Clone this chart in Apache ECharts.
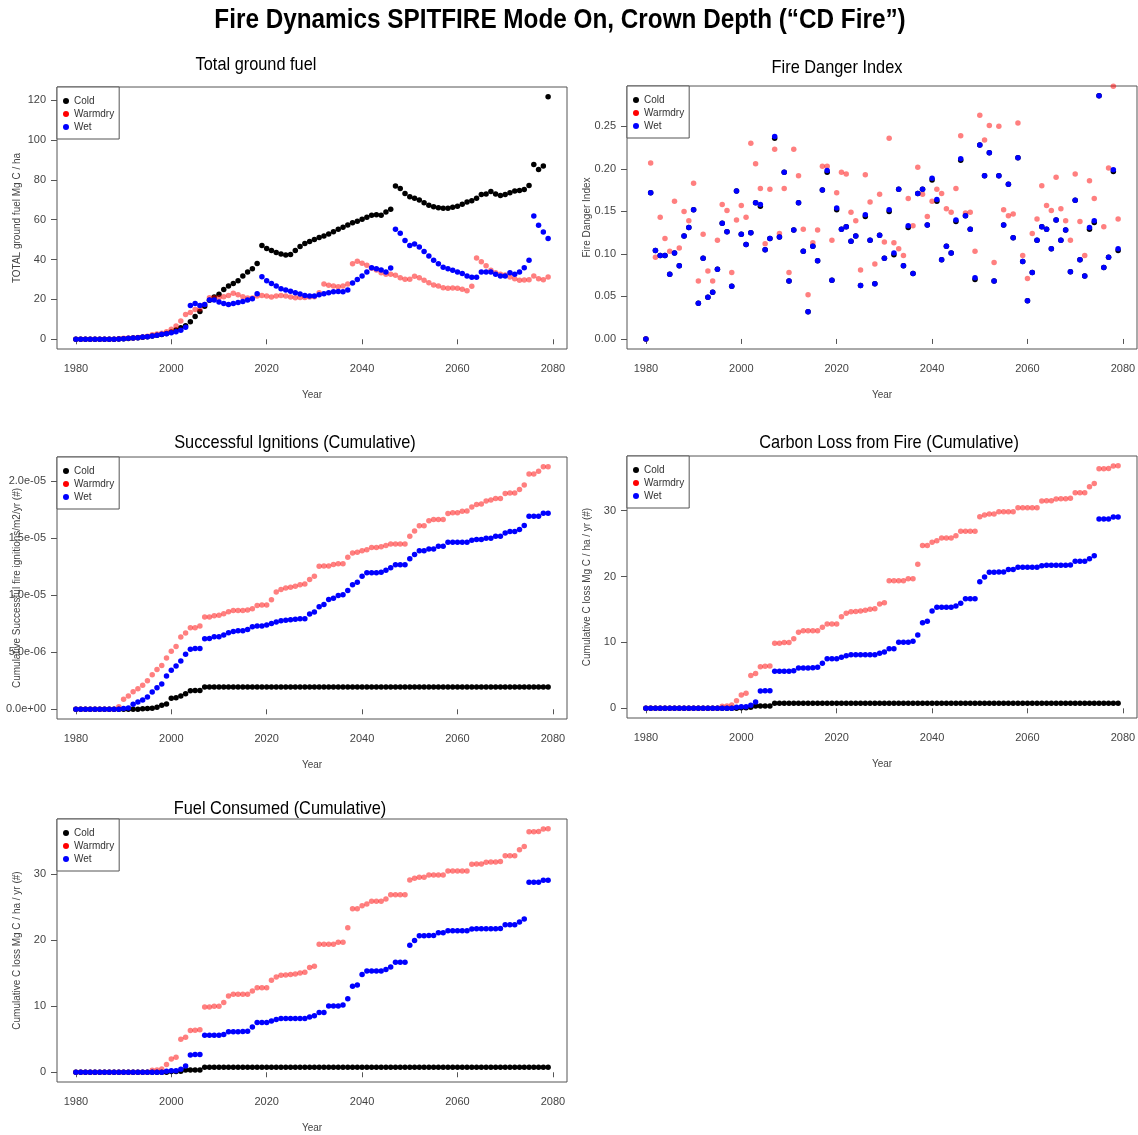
<!DOCTYPE html>
<html>
<head>
<meta charset="utf-8">
<title>Fire Dynamics SPITFIRE Mode On, Crown Depth</title>
<script src="https://cdn.jsdelivr.net/npm/echarts@6/dist/echarts.min.js"></script>
<style>
  html, body { margin: 0; padding: 0; background: #ffffff; }
  #chart { width: 1138px; height: 1135px; }
</style>
</head>
<body>
<div id="chart"></div>
<script>
// ---- Simulation years ----
const years = [
  1980,1981,1982,1983,1984,1985,1986,1987,1988,1989,
  1990,1991,1992,1993,1994,1995,1996,1997,1998,1999,
  2000,2001,2002,2003,2004,2005,2006,2007,2008,2009,
  2010,2011,2012,2013,2014,2015,2016,2017,2018,2019,
  2020,2021,2022,2023,2024,2025,2026,2027,2028,2029,
  2030,2031,2032,2033,2034,2035,2036,2037,2038,2039,
  2040,2041,2042,2043,2044,2045,2046,2047,2048,2049,
  2050,2051,2052,2053,2054,2055,2056,2057,2058,2059,
  2060,2061,2062,2063,2064,2065,2066,2067,2068,2069,
  2070,2071,2072,2073,2074,2075,2076,2077,2078,2079
];

// ---- Total ground fuel (Mg C / ha) ----
const groundCold = [
  0,0,0,0,0,0,0,0,0,0.2,
  0.3,0.4,0.6,0.8,1.0,1.3,1.6,2.0,2.4,2.9,
  3.6,4.6,5.8,6.8,8.8,11.4,13.9,16.6,19.6,21.2,
  22.6,25.0,26.7,28.0,29.4,31.8,33.8,35.4,38.0,47.1,
  45.5,44.5,43.6,42.8,42.3,42.6,44.5,46.5,48.0,49.0,
  50.1,51.1,51.8,52.8,54.0,55.2,56.2,57.3,58.5,59.2,
  60.2,61.2,62.2,62.5,62.2,63.8,65.2,76.9,75.7,73.2,
  71.5,70.7,69.9,68.5,67.2,66.5,66.0,65.7,65.7,66.2,
  66.7,67.7,68.9,69.5,70.7,72.7,72.9,74.2,72.9,72.2,
  72.7,73.5,74.4,74.7,75.2,77.2,87.7,85.2,86.9,121.7
];
const groundWarm = [
  0,0,0,0,0,0,0,0,0,0.3,
  0.5,0.6,0.7,0.9,1.1,1.5,2.3,2.7,3.0,3.8,
  5.0,6.7,9.2,12.4,13.4,15.0,15.2,17.5,20.9,20.9,
  20.9,21.4,22.0,23.1,22.4,21.4,20.7,20.7,21.7,22.0,
  21.7,21.2,21.7,22.0,21.7,21.2,20.9,21.0,21.0,21.2,
  21.4,23.4,27.7,27.1,26.7,26.4,26.7,27.7,37.9,39.1,
  38.1,37.1,35.6,34.8,33.4,32.6,32.6,32.1,30.9,30.1,
  30.1,31.6,30.9,29.6,28.4,27.2,26.7,25.9,25.6,25.7,
  25.6,25.1,24.4,26.6,40.8,38.9,36.9,34.6,33.4,32.6,
  32.3,31.3,30.4,29.6,29.8,29.9,31.8,30.4,29.9,31.3
];
const groundWet = [
  0,0,0,0,0,0,0,0,0,0.2,
  0.3,0.5,0.7,0.8,1.2,1.3,1.7,2.0,2.5,2.8,
  3.3,3.8,4.5,6.0,17.0,18.0,17.0,17.5,19.7,19.7,
  18.7,18.0,17.5,18.0,18.4,19.0,19.7,20.4,22.9,31.4,
  29.4,28.0,26.7,25.4,24.7,24.1,23.4,22.7,22.0,21.7,
  21.7,22.4,22.9,23.4,23.9,24.0,23.9,24.7,28.2,30.0,
  31.8,33.8,35.9,35.4,34.8,33.8,35.8,55.2,53.2,49.6,
  47.1,47.8,46.3,44.1,41.8,39.6,37.9,36.1,35.4,34.6,
  33.8,33.0,31.8,31.1,31.1,33.8,33.8,33.8,32.6,31.8,
  31.8,33.4,32.6,33.8,35.9,39.6,61.8,57.2,53.8,50.6
];

// ---- Fire Danger Index ----
const fdiCold = [
  0,0.172,0.104,0.098,0.098,0.076,0.101,0.086,0.121,0.131,
  0.152,0.042,0.095,0.049,0.055,0.082,0.136,0.126,0.062,0.174,
  0.123,0.111,0.125,0.160,0.156,0.105,0.118,0.236,0.120,0.196,
  0.068,0.128,0.160,0.103,0.032,0.109,0.092,0.175,0.196,0.069,
  0.152,0.129,0.132,0.115,0.121,0.063,0.144,0.116,0.065,0.122,
  0.095,0.150,0.099,0.176,0.086,0.131,0.077,0.171,0.176,0.134,
  0.187,0.162,0.093,0.109,0.101,0.138,0.210,0.145,0.129,0.070,
  0.228,0.192,0.219,0.068,0.192,0.134,0.182,0.119,0.213,0.091,
  0.045,0.078,0.116,0.132,0.129,0.106,0.140,0.116,0.128,0.079,
  0.163,0.093,0.074,0.129,0.137,0.286,0.084,0.096,0.197,0.104
];
const fdiWarm = [
  0,0.207,0.096,0.143,0.118,0.103,0.162,0.107,0.150,0.139,
  0.183,0.068,0.123,0.080,0.068,0.116,0.158,0.151,0.078,0.140,
  0.157,0.143,0.230,0.206,0.177,0.112,0.176,0.223,0.124,0.177,
  0.078,0.223,0.192,0.129,0.052,0.113,0.128,0.203,0.203,0.116,
  0.172,0.196,0.194,0.149,0.139,0.081,0.193,0.161,0.088,0.170,
  0.114,0.236,0.113,0.106,0.098,0.165,0.133,0.202,0.170,0.144,
  0.162,0.176,0.171,0.153,0.149,0.177,0.239,0.148,0.149,0.103,
  0.263,0.234,0.251,0.090,0.250,0.152,0.145,0.147,0.254,0.098,
  0.071,0.124,0.141,0.180,0.157,0.151,0.190,0.153,0.139,0.116,
  0.194,0.138,0.098,0.186,0.165,0.310,0.132,0.201,0.297,0.141
];
const fdiWet = [
  0,0.172,0.104,0.098,0.098,0.076,0.101,0.086,0.121,0.131,
  0.152,0.042,0.095,0.049,0.055,0.082,0.136,0.126,0.062,0.174,
  0.123,0.111,0.125,0.160,0.158,0.105,0.118,0.238,0.120,0.196,
  0.068,0.128,0.160,0.103,0.032,0.109,0.092,0.175,0.198,0.069,
  0.154,0.129,0.132,0.115,0.121,0.063,0.146,0.116,0.065,0.122,
  0.095,0.152,0.101,0.176,0.086,0.133,0.077,0.171,0.176,0.134,
  0.189,0.164,0.093,0.109,0.101,0.140,0.212,0.145,0.129,0.072,
  0.228,0.192,0.219,0.068,0.192,0.134,0.182,0.119,0.213,0.091,
  0.045,0.078,0.116,0.132,0.129,0.106,0.140,0.116,0.128,0.079,
  0.163,0.093,0.074,0.131,0.139,0.286,0.084,0.096,0.199,0.106
];

// ---- Cumulative successful ignitions (units of 1e-06 per m2 per yr) ----
const ignCold = [
  0,0,0,0,0,0,0,0,0,0,
  0,0,0,0,0.05,0.07,0.1,0.17,0.35,0.47,
  0.96,1.02,1.17,1.37,1.62,1.64,1.64,1.96,1.96,1.96,
  1.96,1.96,1.96,1.96,1.96,1.96,1.96,1.96,1.96,1.96,
  1.96,1.96,1.96,1.96,1.96,1.96,1.96,1.96,1.96,1.96,
  1.96,1.96,1.96,1.96,1.96,1.96,1.96,1.96,1.96,1.96,
  1.96,1.96,1.96,1.96,1.96,1.96,1.96,1.96,1.96,1.96,
  1.96,1.96,1.96,1.96,1.96,1.96,1.96,1.96,1.96,1.96,
  1.96,1.96,1.96,1.96,1.96,1.96,1.96,1.96,1.96,1.96,
  1.96,1.96,1.96,1.96,1.96,1.96,1.96,1.96,1.96,1.96
];
const ignWarm = [
  0,0,0,0,0,0,0,0,0,0.23,
  0.88,1.17,1.55,1.81,2.1,2.5,3.04,3.5,3.85,4.5,
  5.1,5.5,6.34,6.7,7.15,7.15,7.3,8.09,8.1,8.2,
  8.26,8.38,8.55,8.67,8.67,8.67,8.7,8.82,9.1,9.14,
  9.14,9.6,10.3,10.5,10.65,10.7,10.8,10.92,10.98,11.39,
  11.68,12.55,12.58,12.58,12.7,12.76,12.76,13.34,13.72,13.78,
  13.9,14.0,14.19,14.19,14.25,14.36,14.51,14.51,14.51,14.51,
  15.18,15.65,16.09,16.09,16.53,16.64,16.64,16.64,17.17,17.23,
  17.23,17.37,17.4,17.75,17.96,18.01,18.28,18.36,18.48,18.48,
  18.92,18.98,18.98,19.27,19.68,20.64,20.64,20.88,21.28,21.28
];
const ignWet = [
  0,0,0,0,0,0,0,0,0,0,
  0.06,0.12,0.44,0.64,0.82,1.08,1.52,1.9,2.22,2.92,
  3.42,3.8,4.23,4.82,5.26,5.34,5.34,6.19,6.22,6.36,
  6.36,6.51,6.72,6.83,6.89,6.89,7.0,7.24,7.3,7.3,
  7.39,7.53,7.65,7.77,7.82,7.85,7.9,7.94,7.94,8.35,
  8.53,9.0,9.2,9.64,9.75,9.99,10.04,10.42,10.92,11.15,
  11.68,11.97,11.97,11.97,12.03,12.2,12.41,12.67,12.67,12.67,
  13.2,13.58,13.9,13.9,14.07,14.07,14.31,14.31,14.66,14.66,
  14.66,14.66,14.66,14.83,14.89,14.89,15.0,15.0,15.18,15.18,
  15.47,15.59,15.59,15.77,16.12,16.93,16.93,16.93,17.2,17.2
];

// ---- Cumulative carbon loss from fire (Mg C / ha / yr) ----
const lossCold = [
  0,0,0,0,0,0,0,0,0,0,
  0,0,0,0,0,0,0,0,0,0.02,
  0.1,0.1,0.15,0.35,0.35,0.35,0.35,0.76,0.76,0.76,
  0.76,0.76,0.76,0.76,0.76,0.76,0.76,0.76,0.76,0.76,
  0.76,0.76,0.76,0.76,0.76,0.76,0.76,0.76,0.76,0.76,
  0.76,0.76,0.76,0.76,0.76,0.76,0.76,0.76,0.76,0.76,
  0.76,0.76,0.76,0.76,0.76,0.76,0.76,0.76,0.76,0.76,
  0.76,0.76,0.76,0.76,0.76,0.76,0.76,0.76,0.76,0.76,
  0.76,0.76,0.76,0.76,0.76,0.76,0.76,0.76,0.76,0.76,
  0.76,0.76,0.76,0.76,0.76,0.76,0.76,0.76,0.76,0.76
];
const lossWarm = [
  0,0,0,0,0,0,0,0,0,0,
  0,0,0,0,0,0,0.3,0.35,0.5,1.16,
  2.02,2.28,5.0,5.3,6.32,6.37,6.42,9.86,9.86,10.0,
  10.0,10.57,11.53,11.79,11.79,11.79,11.79,12.29,12.8,12.8,
  12.8,13.9,14.42,14.67,14.7,14.77,14.87,15.02,15.12,15.83,
  16.03,19.37,19.37,19.37,19.37,19.68,19.68,21.85,24.73,24.73,
  25.19,25.44,25.85,25.85,25.85,26.2,26.86,26.86,26.86,26.86,
  29.08,29.34,29.49,29.49,29.84,29.84,29.84,29.84,30.45,30.45,
  30.45,30.45,30.45,31.46,31.51,31.51,31.77,31.8,31.8,31.87,
  32.73,32.73,32.73,33.64,34.14,36.37,36.37,36.42,36.77,36.82
];
const lossWet = [
  0,0,0,0,0,0,0,0,0,0,
  0,0,0,0,0,0,0,0,0,0.15,
  0.25,0.25,0.45,0.96,2.63,2.68,2.68,5.61,5.61,5.61,
  5.61,5.72,6.12,6.12,6.12,6.17,6.22,6.83,7.54,7.54,
  7.54,7.74,7.99,8.14,8.14,8.14,8.14,8.14,8.14,8.35,
  8.55,9.05,9.05,10.02,10.02,10.02,10.17,11.13,13.0,13.2,
  14.77,15.33,15.33,15.33,15.33,15.53,15.93,16.64,16.64,16.64,
  19.22,19.93,20.64,20.64,20.69,20.69,21.09,21.09,21.4,21.4,
  21.4,21.4,21.4,21.65,21.7,21.7,21.7,21.7,21.7,21.75,
  22.31,22.31,22.31,22.71,23.17,28.73,28.73,28.73,29.03,29.03
];

// ---- Cumulative fuel consumed (Mg C / ha / yr) ----
const fuelCold = [
  0,0,0,0,0,0,0,0,0,0,
  0,0,0,0,0,0,0,0,0,0.02,
  0.1,0.1,0.15,0.35,0.35,0.35,0.35,0.76,0.76,0.76,
  0.76,0.76,0.76,0.76,0.76,0.76,0.76,0.76,0.76,0.76,
  0.76,0.76,0.76,0.76,0.76,0.76,0.76,0.76,0.76,0.76,
  0.76,0.76,0.76,0.76,0.76,0.76,0.76,0.76,0.76,0.76,
  0.76,0.76,0.76,0.76,0.76,0.76,0.76,0.76,0.76,0.76,
  0.76,0.76,0.76,0.76,0.76,0.76,0.76,0.76,0.76,0.76,
  0.76,0.76,0.76,0.76,0.76,0.76,0.76,0.76,0.76,0.76,
  0.76,0.76,0.76,0.76,0.76,0.76,0.76,0.76,0.76,0.76
];
const fuelWarm = [
  0,0,0,0,0,0,0,0,0,0,
  0,0,0,0,0,0,0.3,0.35,0.5,1.16,
  2.02,2.28,5.0,5.3,6.32,6.37,6.42,9.86,9.86,10.0,
  10.0,10.57,11.53,11.79,11.79,11.79,11.79,12.29,12.8,12.8,
  12.8,13.9,14.42,14.67,14.7,14.77,14.87,15.02,15.12,15.83,
  16.03,19.37,19.37,19.37,19.37,19.68,19.68,21.85,24.73,24.73,
  25.19,25.44,25.85,25.85,25.85,26.2,26.86,26.86,26.86,26.86,
  29.08,29.34,29.49,29.49,29.84,29.84,29.84,29.84,30.45,30.45,
  30.45,30.45,30.45,31.46,31.51,31.51,31.77,31.8,31.8,31.87,
  32.73,32.73,32.73,33.64,34.14,36.37,36.37,36.42,36.77,36.82
];
const fuelWet = [
  0,0,0,0,0,0,0,0,0,0,
  0,0,0,0,0,0,0,0,0,0.15,
  0.25,0.25,0.45,0.96,2.63,2.68,2.68,5.61,5.61,5.61,
  5.61,5.72,6.12,6.12,6.12,6.17,6.22,6.83,7.54,7.54,
  7.54,7.74,7.99,8.14,8.14,8.14,8.14,8.14,8.14,8.35,
  8.55,9.05,9.05,10.02,10.02,10.02,10.17,11.13,13.0,13.2,
  14.77,15.33,15.33,15.33,15.33,15.53,15.93,16.64,16.64,16.64,
  19.22,19.93,20.64,20.64,20.69,20.69,21.09,21.09,21.4,21.4,
  21.4,21.4,21.4,21.65,21.7,21.7,21.7,21.7,21.7,21.75,
  22.31,22.31,22.31,22.71,23.17,28.73,28.73,28.73,29.03,29.03
];

// ---- Tick positions and labels ----
const yearTicks = [1980, 2000, 2020, 2040, 2060, 2080];
const groundTicks = [0, 20, 40, 60, 80, 100, 120];
const fdiTicks = [0, 0.05, 0.1, 0.15, 0.2, 0.25];
const fdiTickLabels = ['0.00', '0.05', '0.10', '0.15', '0.20', '0.25'];
const ignTicks = [0, 5, 10, 15, 20];
const ignTickLabels = ['0.0e+00', '5.0e-06', '1.0e-05', '1.5e-05', '2.0e-05'];
const lossTicks = [0, 10, 20, 30];

const scenarioNames = ['Cold', 'Warmdry', 'Wet'];

// ---- Styling ----
const FONT = "'Liberation Sans', Arial, sans-serif";
const AXIS_GREY = '#555555';
const LABEL_GREY = '#444444';
const pointColors = { Cold: '#000000', Warmdry: 'rgba(255,0,0,0.5)', Wet: '#0000ff' };
const legendColors = { Cold: '#000000', Warmdry: '#ff0000', Wet: '#0000ff' };

// Panel frames: plot-area boxes in page pixels
const panels = [
  { box: { left: 57, top: 87, width: 510, height: 262 },
    y: { min: -4.87, max: 126.57, ticks: groundTicks, labels: null, name: 'TOTAL ground fuel Mg C / ha' },
    data: [groundCold, groundWarm, groundWet] },
  { box: { left: 627, top: 86, width: 510, height: 263 },
    y: { min: -0.0118, max: 0.2974, ticks: fdiTicks, labels: fdiTickLabels, name: 'Fire Danger Index' },
    data: [fdiCold, fdiWarm, fdiWet] },
  { box: { left: 57, top: 457, width: 510, height: 262 },
    y: { min: -0.85, max: 22.13, ticks: ignTicks, labels: ignTickLabels, name: 'Cumulative Successful fire ignitions/m2/yr (#)' },
    data: [ignCold, ignWarm, ignWet] },
  { box: { left: 627, top: 456, width: 510, height: 262 },
    y: { min: -1.47, max: 38.3, ticks: lossTicks, labels: null, name: 'Cumulative C loss Mg C / ha / yr (#)' },
    data: [lossCold, lossWarm, lossWet] },
  { box: { left: 57, top: 819, width: 510, height: 263 },
    y: { min: -1.47, max: 38.3, ticks: lossTicks, labels: null, name: 'Cumulative C loss Mg C / ha / yr (#)' },
    data: [fuelCold, fuelWarm, fuelWet] }
];

// Panel headings: text and centre position
const headings = [
  { text: 'Total ground fuel', x: 256, y: 65 },
  { text: 'Fire Danger Index', x: 837, y: 68 },
  { text: 'Successful Ignitions (Cumulative)', x: 295, y: 443 },
  { text: 'Carbon Loss from Fire (Cumulative)', x: 889, y: 443 },
  { text: 'Fuel Consumed (Cumulative)', x: 280, y: 809 }
];

const grids = [], xAxes = [], yAxes = [], series = [], legends = [];

panels.forEach((p, k) => {
  grids.push(Object.assign({
    show: true, borderColor: AXIS_GREY, borderWidth: 1, backgroundColor: 'transparent',
    containLabel: false, outerBoundsMode: 'none'
  }, p.box));

  xAxes.push({
    type: 'value', gridIndex: k, min: 1976.04, max: 2082.96,
    axisLine: { show: false },
    axisTick: { show: true, inside: false, length: 5, customValues: yearTicks,
      lineStyle: { color: AXIS_GREY, width: 1 } },
    axisLabel: { customValues: yearTicks, margin: 14, fontSize: 11, color: LABEL_GREY, fontFamily: FONT,
      formatter: function (v) { return String(Math.round(v)); } },
    splitLine: { show: false },
    name: 'Year', nameLocation: 'middle', nameGap: 41, nameMoveOverlap: false,
    nameTextStyle: { fontSize: 10, color: LABEL_GREY, fontFamily: FONT }
  });

  const lab = p.y.labels;
  const tk = p.y.ticks;
  yAxes.push({
    type: 'value', gridIndex: k, min: p.y.min, max: p.y.max,
    axisLine: { show: false },
    axisTick: { show: true, inside: false, length: 6, customValues: tk,
      lineStyle: { color: AXIS_GREY, width: 1 } },
    axisLabel: {
      customValues: tk, margin: 11, fontSize: 11, color: LABEL_GREY, fontFamily: FONT,
      formatter: function (v) {
        if (!lab) return String(v);
        let best = 0;
        for (let i = 0; i < tk.length; i++) {
          if (Math.abs(tk[i] - v) < Math.abs(tk[best] - v)) best = i;
        }
        return lab[best];
      }
    },
    splitLine: { show: false },
    name: p.y.name, nameLocation: 'middle', nameGap: 35, nameMoveOverlap: false,
    nameTextStyle: { fontSize: 10, color: LABEL_GREY, fontFamily: FONT }
  });

  scenarioNames.forEach((nm, s) => {
    series.push({
      type: 'scatter', name: nm, xAxisIndex: k, yAxisIndex: k,
      symbol: 'circle', symbolSize: 5.5, clip: true, silent: true,
      itemStyle: { color: pointColors[nm], opacity: 1 },
      data: p.data[s].map((v, i) => [years[i], v])
    });
  });

  legends.push({
    left: p.box.left, top: p.box.top, orient: 'vertical',
    backgroundColor: '#ffffff', borderColor: AXIS_GREY, borderWidth: 1, borderRadius: 0,
    padding: [8, 5, 6, 6], itemGap: 1, itemWidth: 6, itemHeight: 6,
    icon: 'circle', selectedMode: false,
    textStyle: { fontSize: 10, color: '#333333', fontFamily: FONT, lineHeight: 12 },
    data: scenarioNames.map(nm => ({ name: nm, itemStyle: { color: legendColors[nm], opacity: 1 } })),
    z: 10
  });
});

const graphics = [
  {
    type: 'text', x: 560, y: 21, scaleX: 0.9, z: 20,
    style: {
      text: 'Fire Dynamics SPITFIRE Mode On, Crown Depth (\u201CCD Fire\u201D)',
      textAlign: 'center', textVerticalAlign: 'middle',
      font: "bold 27px 'Liberation Sans', Arial, sans-serif", fill: '#000000'
    }
  }
].concat(headings.map(h => ({
  type: 'text', x: h.x, y: h.y, scaleX: 0.86, z: 20,
  style: {
    text: h.text, textAlign: 'center', textVerticalAlign: 'middle',
    font: "19px 'Liberation Sans', Arial, sans-serif", fill: '#000000'
  }
})));

const chart = echarts.init(document.getElementById('chart'), null, { renderer: 'canvas' });
chart.setOption({
  animation: false,
  backgroundColor: '#ffffff',
  grid: grids,
  xAxis: xAxes,
  yAxis: yAxes,
  legend: legends,
  series: series,
  graphic: graphics
});
</script>
</body>
</html>
